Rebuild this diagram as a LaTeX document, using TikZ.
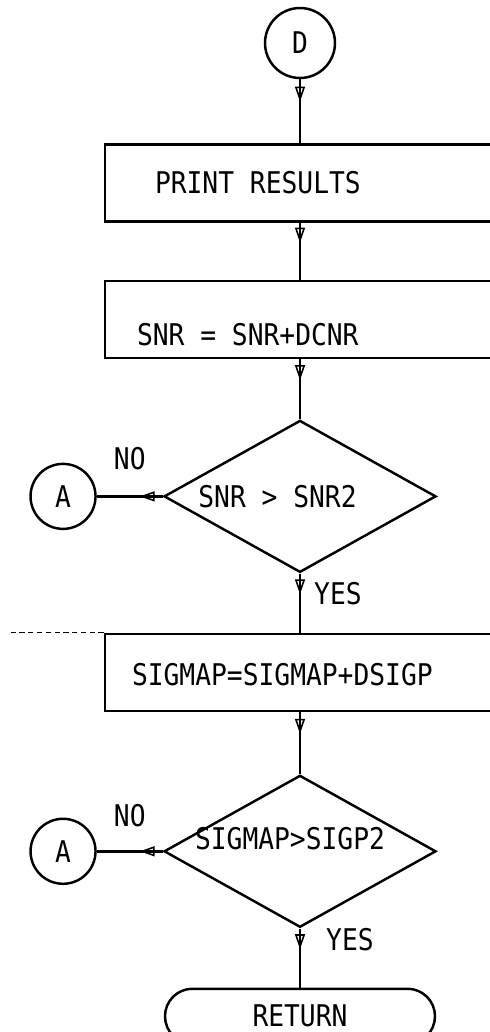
\documentclass[tikz,border=0pt]{standalone}
\usepackage{fontspec}
\newfontfamily\flowfont[FakeStretch=0.88]{DejaVu Sans Mono}
\usetikzlibrary{arrows.meta, positioning, shapes.geometric, decorations.markings}

\begin{document}
\begin{tikzpicture}[
    line width=1.4pt,
    every node/.style={font=\flowfont\fontsize{17}{20}\selectfont},
    txt/.style={inner sep=0pt},
    box/.style={draw, minimum width=7.8cm, minimum height=1.54cm},
    conn/.style={draw, circle, minimum size=1.3cm, inner sep=0pt},
    test/.style={draw, diamond, minimum width=5.44cm, minimum height=3.04cm, inner sep=0pt},
    term/.style={draw, rounded corners=0.55cm, minimum width=5.4cm, minimum height=1.1cm},
    flow/.style={postaction={decorate}, decoration={markings,
        mark=at position 0.35 with {\arrow{Triangle[open, length=3mm, width=2mm, line width=0.9pt]}}}},
]
    \useasboundingbox (0,0) rectangle (9.78,-20.64);

    % Entry connector
    \node[conn, minimum size=1.4cm] (d) at (6,-0.86) {D};
    % Steps
    \node[box, below=1.28cm of d] (print) {};
    \node[txt, anchor=west] (printtxt) at ([xshift=1cm]print.west) {PRINT RESULTS};
    \node[box, below=1.14cm of print] (snr) {};
    \node[txt, anchor=west] (snrtxt) at ([xshift=0.64cm, yshift=-0.3cm]snr.west) {SNR = SNR+DCNR};
    % First test
    \node[test, below=1.2cm of snr] (dec1) {};
    \node[txt] (dec1txt) at ([xshift=-0.45cm]dec1.center) {SNR > SNR2};
    \node[conn, left=1.32cm of dec1] (a1) {A};
    \node[box, below=1.18cm of dec1] (sigmap) {};
    \node[txt, anchor=west] (sigmaptxt) at ([xshift=0.54cm, yshift=-0.05cm]sigmap.west) {SIGMAP=SIGMAP+DSIGP};
    \coordinate (stub) at ([xshift=-1.9cm]sigmap.north west);
    % Second test
    \node[test, below=1.24cm of sigmap] (dec2) {};
    \node[txt] (dec2txt) at ([xshift=-0.2cm, yshift=0.26cm]dec2.center) {SIGMAP>SIGP2};
    \node[conn, left=1.32cm of dec2] (a2) {A};
    % Exit
    \node[term, below=1.18cm of dec2] (ret) {RETURN};

    % Arrows
    \draw[flow] (d) -- (print);
    \draw[flow] (print) -- (snr);
    \draw[flow] (snr) -- (dec1);
    \draw[flow] (dec1.west) -- (a1) node[txt, midway, above=0.5cm] (no1) {NO};
    \draw[flow] (dec1) -- (sigmap);
    \draw[flow] (sigmap) -- (dec2);
    \draw[flow] (dec2.west) -- (a2) node[txt, midway, above=0.46cm] (no2) {NO};
    \draw[flow] (dec2) -- (ret);
    \draw[line width=0.6pt, densely dashed] (sigmap.north west) -- (stub);

    % Branch labels
    \node[txt, anchor=west] (yes1) at ([xshift=0.26cm, yshift=-0.4cm]dec1.south) {YES};
    \node[txt, anchor=west] (yes2) at ([xshift=0.5cm, yshift=-0.22cm]dec2.south) {YES};
\end{tikzpicture}
\end{document}
